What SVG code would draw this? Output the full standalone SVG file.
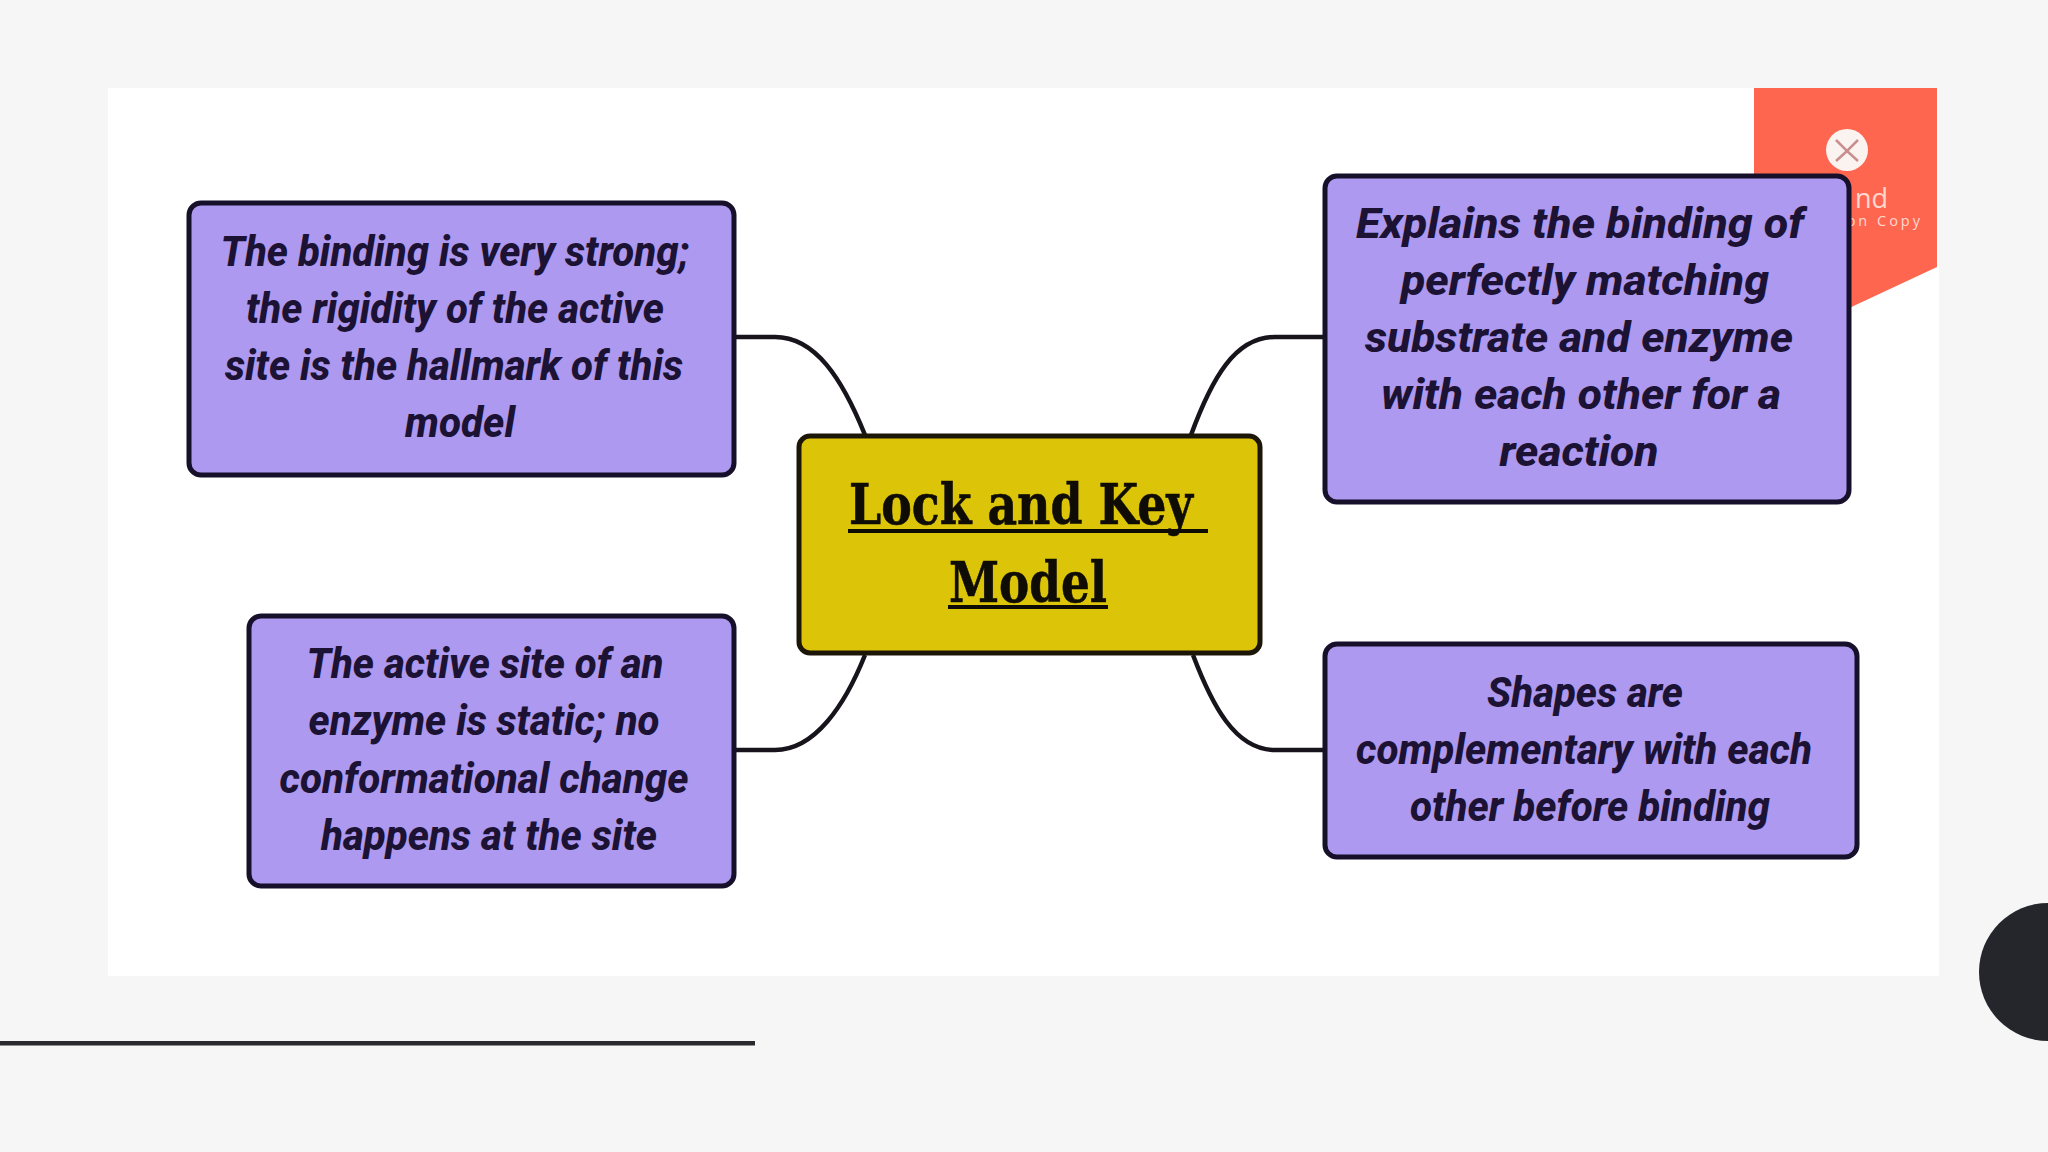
<svg xmlns="http://www.w3.org/2000/svg" width="2048" height="1152" viewBox="0 0 2048 1152">
<style>
.box{fill:#ad99f0;stroke:#17102b;stroke-width:5}
.t{font-family:Roboto,"Liberation Sans",sans-serif;font-weight:800;font-style:italic;font-size:43px;fill:#1c1233;text-anchor:middle}
.h{font-family:"DejaVu Serif","Liberation Serif",serif;font-weight:700;font-size:56px;fill:#0e0c04;stroke:#0e0c04;stroke-width:.6;text-anchor:middle}
.c{fill:none;stroke:#17141c;stroke-width:4.5}
.wm{font-family:"Open Sans","Liberation Sans",sans-serif;fill:#ffd9cf}
</style>
<rect width="2048" height="1152" fill="#f6f6f7"/>
<rect x="108" y="88" width="1831" height="888" fill="#fff"/>
<g id="badge">
<path d="M1754 88H1937V267L1800 331H1754Z" fill="#ff6650"/>
<circle cx="1847" cy="150" r="21" fill="#fbf3f0"/>
<path d="M1836 140L1847 151L1858 140M1836 161L1847 151L1858 161" fill="none" stroke="#c98f90" stroke-width="2.5"/>
<text class="wm" x="1855" y="208" font-size="27">nd</text>
<text class="wm" x="1923" y="226" font-size="14.5" letter-spacing="3" text-anchor="end">on Copy</text>
</g>
<rect id="rule" x="0" y="1041" width="755" height="4.5" fill="#2a2a2e"/>
<circle id="dot" cx="2048" cy="972" r="69" fill="#25252c"/>
<g id="connectors">
<path class="c" d="M735 337H775C815 337 842 378 865 435"/>
<path class="c" d="M735 750H775C815 750 845 705 865 655"/>
<path class="c" d="M1323 337H1275C1235 337 1212 378 1191 435"/>
<path class="c" d="M1323 750H1275C1235 750 1212 705 1193 655"/>
</g>
<g id="center">
<rect x="799" y="436" width="461" height="217" rx="11" fill="#dcc408" stroke="#1c1608" stroke-width="5"/>
<text class="h" x="1021" y="524" textLength="344" lengthAdjust="spacingAndGlyphs">Lock and Key</text>
<rect x="848" y="529" width="360" height="4" fill="#0e0c04"/>
<text class="h" x="1028" y="602" textLength="158" lengthAdjust="spacingAndGlyphs">Model</text>
<rect x="948" y="605" width="160" height="4" fill="#0e0c04"/>
</g>
<g id="node-top-left">
<rect class="box" x="189" y="203" width="545" height="272" rx="12"/>
<text class="t" x="455" y="266" textLength="469" lengthAdjust="spacingAndGlyphs">The binding is very strong;</text>
<text class="t" x="455" y="323" textLength="418" lengthAdjust="spacingAndGlyphs">the rigidity of the active</text>
<text class="t" x="454" y="380" textLength="458" lengthAdjust="spacingAndGlyphs">site is the hallmark of this</text>
<text class="t" x="460" y="437" textLength="110" lengthAdjust="spacingAndGlyphs">model</text>
</g>
<g id="node-top-right">
<rect class="box" x="1325" y="176" width="524" height="326" rx="12"/>
<text class="t" x="1580" y="238" textLength="448" lengthAdjust="spacingAndGlyphs">Explains the binding of</text>
<text class="t" x="1585" y="295" textLength="368" lengthAdjust="spacingAndGlyphs">perfectly matching</text>
<text class="t" x="1579" y="352" textLength="428" lengthAdjust="spacingAndGlyphs">substrate and enzyme</text>
<text class="t" x="1581" y="409" textLength="400" lengthAdjust="spacingAndGlyphs">with each other for a</text>
<text class="t" x="1579" y="466" textLength="159" lengthAdjust="spacingAndGlyphs">reaction</text>
</g>
<g id="node-bottom-left">
<rect class="box" x="249" y="616" width="485" height="270" rx="12"/>
<text class="t" x="485" y="678" textLength="357" lengthAdjust="spacingAndGlyphs">The active site of an</text>
<text class="t" x="484" y="735" textLength="351" lengthAdjust="spacingAndGlyphs">enzyme is static; no</text>
<text class="t" x="484" y="793" textLength="409" lengthAdjust="spacingAndGlyphs">conformational change</text>
<text class="t" x="489" y="850" textLength="336" lengthAdjust="spacingAndGlyphs">happens at the site</text>
</g>
<g id="node-bottom-right">
<rect class="box" x="1325" y="644" width="532" height="213" rx="12"/>
<text class="t" x="1585" y="707" textLength="196" lengthAdjust="spacingAndGlyphs">Shapes are</text>
<text class="t" x="1584" y="764" textLength="456" lengthAdjust="spacingAndGlyphs">complementary with each</text>
<text class="t" x="1590" y="821" textLength="360" lengthAdjust="spacingAndGlyphs">other before binding</text>
</g>
</svg>
